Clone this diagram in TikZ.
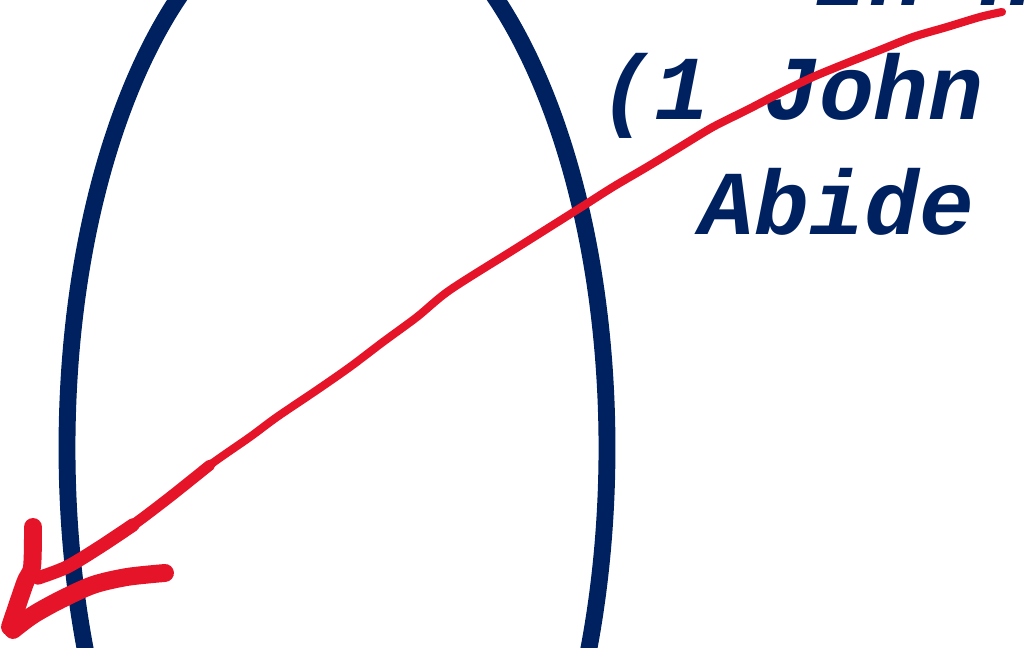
\documentclass[tikz,border=0pt]{standalone}
\usepackage{fontspec}
\newfontfamily\versefont{Liberation Mono}
\definecolor{navy}{RGB}{0,33,95}
\definecolor{inkred}{RGB}{230,20,40}
\tikzset{
  versetext/.style={font=\versefont\bfseries\itshape\fontsize{26}{30}\selectfont, text=navy, anchor=base west, inner sep=0pt},
  redpen/.style={inkred, line cap=round, line join=round}
}
\begin{document}
\begin{tikzpicture}
  \useasboundingbox (0,0) rectangle (10.24,6.48);
  \clip (0,0) rectangle (10.24,6.48);

  % the tall ellipse
  \draw[navy, line width=4.8pt] (3.37,2.00) ellipse [x radius=2.70, y radius=5.56];

  % verse text, cut by the frame
  \node[versetext] (title) at (8.14,6.42) {In Him};
  \node[versetext] (verse) at (5.99,5.28) {(1 John};
  \node[versetext] (abide) at (6.99,4.13) {Abide};

  % freehand red arrow, top right down to bottom left
  \draw[redpen, line width=2.3pt] plot[smooth, tension=0.5] coordinates {
    (10.02,6.36) (9.80,6.31) (9.47,6.21) (9.13,6.11) (8.80,5.98) (8.47,5.85)
    (8.13,5.71) (7.80,5.55) (7.47,5.38) (7.13,5.21) (6.80,5.01) (6.47,4.81)
    (6.13,4.61) (5.80,4.40) (5.15,3.99) (4.50,3.58)
    (4.17,3.31) (3.83,3.06) (3.50,2.81) (3.17,2.58) (2.77,2.31) (2.50,2.11)
    (2.10,1.83) (1.70,1.51) (1.33,1.23) (1.00,1.01) (0.67,0.81) (0.38,0.70)};
  \draw[redpen, line width=3.1pt] plot[smooth, tension=0.5] coordinates {
    (2.10,1.83) (1.70,1.51) (1.33,1.23) (1.00,1.01) (0.67,0.81) (0.38,0.70)};
  \draw[redpen, line width=3.8pt] plot[smooth, tension=0.5] coordinates {
    (1.33,1.23) (1.00,1.01) (0.67,0.81) (0.38,0.70)};

  % arrow head strokes
  \draw[redpen, line width=5.1pt] plot[smooth, tension=0.5] coordinates {
    (0.33,1.21) (0.32,0.81) (0.25,0.65) (0.10,0.21)};
  \draw[redpen, line width=5.1pt] plot[smooth, tension=0.5] coordinates {
    (1.65,0.75) (1.27,0.71) (0.93,0.63) (0.60,0.48) (0.33,0.33) (0.13,0.18)};
\end{tikzpicture}
\end{document}
